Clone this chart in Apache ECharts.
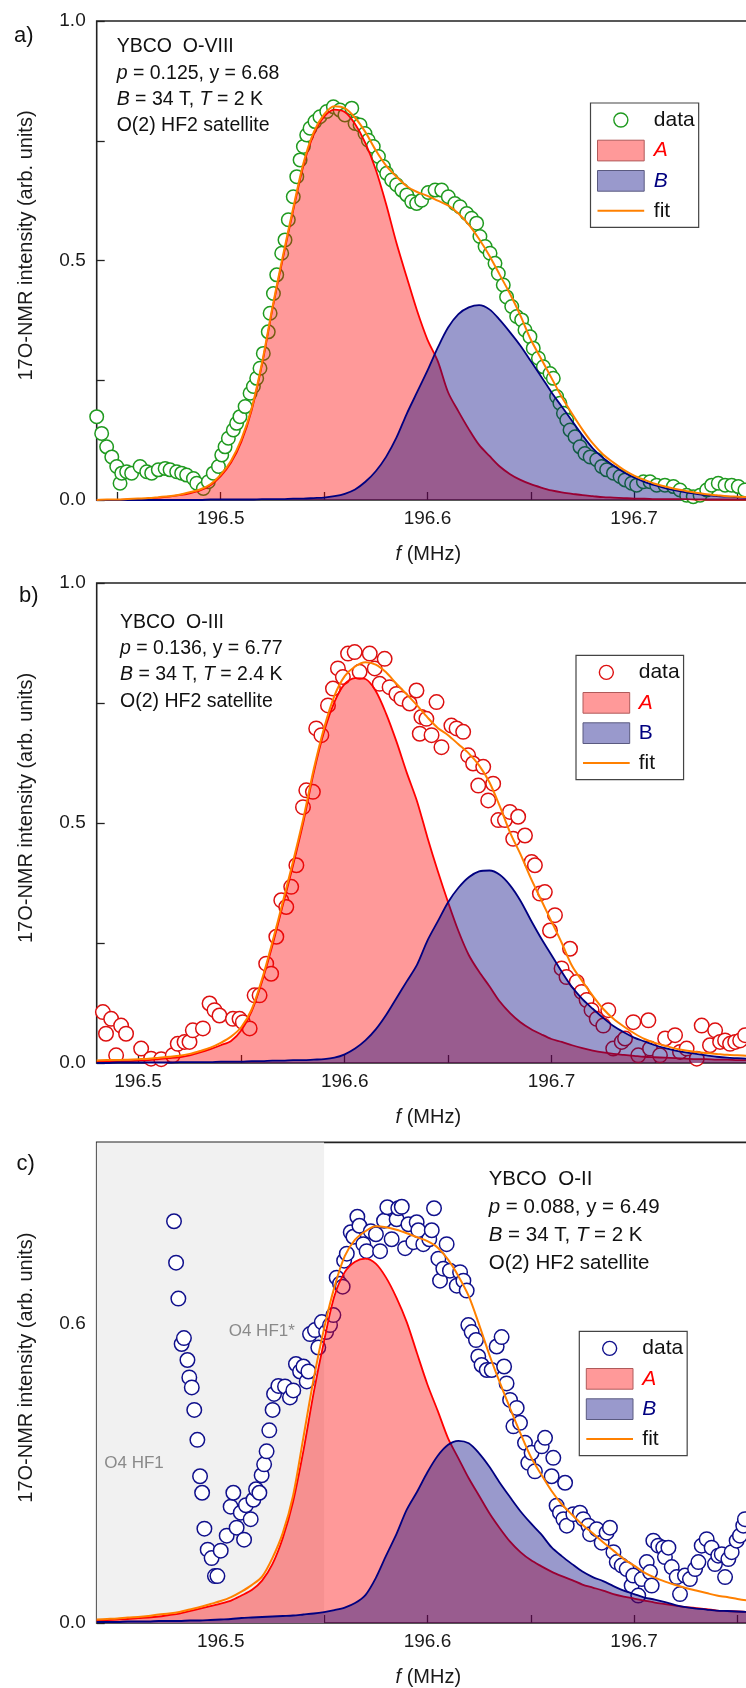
<!DOCTYPE html>
<html><head><meta charset="utf-8">
<script src="https://cdn.jsdelivr.net/npm/echarts@6/dist/echarts.min.js"></script>
<style>html,body{margin:0;padding:0;background:#fff}#c{width:746px;height:1688px}</style>
</head><body><div id="c"></div>
<script>
// ---------- Panel a (YBCO O-VIII) ----------
const freqA = [196.440,196.445,196.450,196.455,196.460,196.465,196.470,196.475,196.480,196.485,196.490,196.495,196.500,196.505,196.510,196.515,196.520,196.525,196.530,196.535,196.540,196.545,196.550,196.555,196.560,196.565,196.570,196.575,196.580,196.585,196.590,196.595,196.600,196.605,196.610,196.615,196.620,196.625,196.630,196.635,196.640,196.645,196.650,196.655,196.660,196.665,196.670,196.675,196.680,196.685,196.690,196.695,196.700,196.705,196.710,196.715,196.720,196.725,196.730,196.735,196.740,196.745,196.750,196.755,196.760];
const compA_a = [0,0,0,0.001,0.002,0.003,0.005,0.007,0.010,0.014,0.020,0.031,0.050,0.078,0.122,0.188,0.283,0.398,0.503,0.603,0.698,0.763,0.800,0.815,0.810,0.785,0.745,0.690,0.618,0.537,0.465,0.395,0.335,0.290,0.225,0.185,0.148,0.115,0.092,0.070,0.054,0.042,0.033,0.026,0.020,0.016,0.013,0.010,0.008,0.006,0.005,0.004,0.003,0.003,0.002,0.002,0.002,0.002,0.001,0.001,0.001,0.001,0.001,0.001,0.001];
const compB_a = [0,0,0,0,0,0,0,0,0,0,0,0.001,0.001,0.001,0.001,0.001,0.002,0.002,0.002,0.003,0.003,0.004,0.005,0.008,0.013,0.022,0.038,0.060,0.090,0.130,0.180,0.225,0.270,0.318,0.360,0.388,0.402,0.407,0.398,0.376,0.350,0.322,0.290,0.258,0.225,0.195,0.165,0.135,0.108,0.088,0.072,0.058,0.047,0.038,0.031,0.025,0.020,0.016,0.013,0.010,0.008,0.007,0.006,0.005,0.004];
const fit_a = [0,0.001,0.001,0.002,0.003,0.004,0.006,0.008,0.011,0.016,0.022,0.033,0.053,0.082,0.127,0.192,0.287,0.402,0.508,0.608,0.703,0.768,0.805,0.822,0.818,0.798,0.768,0.730,0.698,0.675,0.655,0.643,0.635,0.625,0.615,0.598,0.575,0.545,0.510,0.470,0.430,0.385,0.335,0.295,0.255,0.215,0.180,0.147,0.118,0.095,0.078,0.063,0.051,0.042,0.034,0.028,0.023,0.019,0.015,0.012,0.010,0.008,0.007,0.006,0.005];
const data_a = [[196.4400,0.174],[196.4424,0.139],[196.4448,0.111],[196.4473,0.090],[196.4497,0.070],[196.4513,0.035],[196.4521,0.056],[196.4545,0.059],[196.4569,0.056],[196.4610,0.070],[196.4642,0.059],[196.4666,0.056],[196.4698,0.063],[196.4731,0.066],[196.4755,0.063],[196.4787,0.059],[196.4811,0.056],[196.4835,0.052],[196.4868,0.045],[196.4884,0.035],[196.4916,0.024],[196.4940,0.038],[196.4964,0.056],[196.4989,0.070],[196.5005,0.094],[196.5021,0.111],[196.5037,0.129],[196.5061,0.146],[196.5077,0.160],[196.5093,0.174],[196.5118,0.195],[196.5142,0.223],[196.5158,0.237],[196.5174,0.254],[196.5190,0.275],[196.5206,0.306],[196.5230,0.351],[196.5239,0.390],[196.5255,0.431],[196.5271,0.470],[196.5295,0.515],[196.5311,0.543],[196.5327,0.585],[196.5351,0.633],[196.5368,0.675],[196.5384,0.710],[196.5400,0.738],[196.5416,0.762],[196.5432,0.776],[196.5456,0.790],[196.5480,0.800],[196.5513,0.811],[196.5545,0.821],[196.5577,0.814],[196.5601,0.804],[196.5634,0.818],[196.5650,0.786],[196.5674,0.783],[196.5698,0.765],[196.5714,0.751],[196.5738,0.738],[196.5763,0.717],[196.5787,0.696],[196.5803,0.682],[196.5827,0.668],[196.5851,0.658],[196.5876,0.647],[196.5900,0.637],[196.5924,0.623],[196.5948,0.619],[196.5972,0.626],[196.6004,0.642],[196.6037,0.647],[196.6069,0.647],[196.6101,0.633],[196.6133,0.619],[196.6158,0.612],[196.6190,0.598],[196.6214,0.588],[196.6238,0.578],[196.6254,0.550],[196.6279,0.529],[196.6303,0.515],[196.6327,0.494],[196.6343,0.473],[196.6367,0.449],[196.6383,0.424],[196.6408,0.404],[196.6432,0.383],[196.6456,0.376],[196.6472,0.355],[196.6496,0.341],[196.6512,0.317],[196.6537,0.296],[196.6561,0.278],[196.6593,0.264],[196.6609,0.254],[196.6625,0.216],[196.6641,0.202],[196.6658,0.181],[196.6674,0.167],[196.6690,0.146],[196.6714,0.132],[196.6738,0.111],[196.6762,0.097],[196.6787,0.090],[196.6819,0.084],[196.6843,0.070],[196.6867,0.063],[196.6900,0.056],[196.6932,0.049],[196.6956,0.042],[196.6988,0.035],[196.7012,0.031],[196.7045,0.038],[196.7077,0.038],[196.7109,0.031],[196.7149,0.031],[196.7190,0.028],[196.7222,0.021],[196.7254,0.010],[196.7286,0.007],[196.7319,0.010],[196.7351,0.021],[196.7375,0.031],[196.7407,0.035],[196.7440,0.031],[196.7472,0.031],[196.7504,0.028],[196.7536,0.021]];

// ---------- Panel b (YBCO O-III) ----------
const freqB = [196.480,196.485,196.490,196.495,196.500,196.505,196.510,196.515,196.520,196.525,196.530,196.535,196.540,196.545,196.550,196.555,196.560,196.565,196.570,196.575,196.580,196.585,196.590,196.595,196.600,196.605,196.610,196.615,196.620,196.625,196.630,196.635,196.640,196.645,196.650,196.655,196.660,196.665,196.670,196.675,196.680,196.685,196.690,196.695,196.700,196.705,196.710,196.715,196.720,196.725,196.730,196.735,196.740,196.745,196.750,196.755,196.760,196.765,196.770,196.775,196.780,196.785,196.790,196.795,196.800];
const compA_b = [0.003,0.003,0.004,0.004,0.005,0.006,0.008,0.010,0.012,0.016,0.022,0.029,0.037,0.046,0.068,0.108,0.170,0.245,0.328,0.412,0.502,0.605,0.690,0.752,0.790,0.802,0.800,0.775,0.728,0.670,0.605,0.545,0.470,0.400,0.335,0.275,0.225,0.190,0.160,0.128,0.104,0.085,0.071,0.060,0.050,0.044,0.037,0.031,0.026,0.022,0.019,0.017,0.015,0.013,0.012,0.011,0.010,0.009,0.008,0.008,0.007,0.007,0.006,0.006,0.006];
const compB_b = [0,0,0.001,0.001,0.001,0.001,0.001,0.001,0.002,0.002,0.002,0.002,0.003,0.003,0.003,0.004,0.004,0.005,0.005,0.006,0.006,0.007,0.008,0.011,0.018,0.030,0.047,0.070,0.100,0.135,0.170,0.205,0.255,0.295,0.335,0.365,0.387,0.399,0.401,0.392,0.370,0.338,0.298,0.260,0.225,0.190,0.158,0.133,0.113,0.094,0.077,0.064,0.053,0.045,0.037,0.031,0.026,0.022,0.019,0.016,0.013,0.011,0.010,0.009,0.008];
const fit_b = [0.005,0.006,0.006,0.007,0.008,0.009,0.011,0.013,0.015,0.019,0.025,0.032,0.042,0.055,0.075,0.112,0.175,0.252,0.335,0.420,0.510,0.612,0.698,0.765,0.806,0.826,0.835,0.830,0.814,0.790,0.768,0.745,0.720,0.698,0.683,0.664,0.645,0.620,0.585,0.535,0.480,0.435,0.385,0.340,0.295,0.250,0.202,0.170,0.140,0.113,0.092,0.076,0.062,0.050,0.042,0.036,0.030,0.026,0.023,0.021,0.019,0.017,0.016,0.015,0.014];
const data_b = [[196.4797,0.158],[196.4830,0.106],[196.4845,0.061],[196.4870,0.092],[196.4894,0.016],[196.4918,0.078],[196.4942,0.061],[196.5015,0.030],[196.5063,0.009],[196.5112,0.008],[196.5168,0.016],[196.5192,0.040],[196.5225,0.044],[196.5249,0.044],[196.5265,0.068],[196.5314,0.072],[196.5346,0.124],[196.5370,0.110],[196.5394,0.099],[196.5459,0.092],[196.5491,0.092],[196.5507,0.085],[196.5540,0.072],[196.5564,0.141],[196.5588,0.141],[196.5620,0.207],[196.5644,0.186],[196.5669,0.263],[196.5693,0.339],[196.5717,0.325],[196.5741,0.367],[196.5766,0.412],[196.5798,0.533],[196.5814,0.568],[196.5846,0.565],[196.5862,0.697],[196.5887,0.683],[196.5919,0.745],[196.5943,0.780],[196.5967,0.822],[196.5991,0.804],[196.6016,0.853],[196.6048,0.856],[196.6072,0.815],[196.6121,0.853],[196.6145,0.822],[196.6169,0.790],[196.6193,0.842],[196.6217,0.783],[196.6250,0.769],[196.6274,0.759],[196.6314,0.749],[196.6347,0.776],[196.6363,0.686],[196.6371,0.721],[196.6395,0.717],[196.6420,0.683],[196.6444,0.752],[196.6468,0.658],[196.6516,0.703],[196.6541,0.697],[196.6573,0.690],[196.6597,0.641],[196.6621,0.624],[196.6646,0.578],[196.6670,0.617],[196.6694,0.547],[196.6718,0.582],[196.6743,0.506],[196.6775,0.506],[196.6799,0.523],[196.6815,0.467],[196.6839,0.513],[196.6872,0.474],[196.6904,0.419],[196.6920,0.412],[196.6944,0.353],[196.6968,0.356],[196.6993,0.276],[196.7017,0.308],[196.7049,0.197],[196.7073,0.179],[196.7090,0.238],[196.7122,0.169],[196.7146,0.148],[196.7170,0.131],[196.7194,0.110],[196.7219,0.092],[196.7251,0.078],[196.7275,0.110],[196.7299,0.030],[196.7340,0.044],[196.7356,0.051],[196.7396,0.085],[196.7420,0.016],[196.7469,0.089],[196.7477,0.030],[196.7525,0.016],[196.7550,0.051],[196.7598,0.058],[196.7622,0.023],[196.7654,0.030],[196.7703,0.009],[196.7727,0.078],[196.7767,0.037],[196.7792,0.068],[196.7816,0.044],[196.7840,0.047],[196.7864,0.040],[196.7889,0.044],[196.7913,0.047],[196.7937,0.058]];

// ---------- Panel c (YBCO O-II) ----------
const freqC = [196.440,196.445,196.450,196.455,196.460,196.465,196.470,196.475,196.480,196.485,196.490,196.495,196.500,196.505,196.510,196.515,196.520,196.525,196.530,196.535,196.540,196.545,196.550,196.555,196.560,196.565,196.570,196.575,196.580,196.585,196.590,196.595,196.600,196.605,196.610,196.615,196.620,196.625,196.630,196.635,196.640,196.645,196.650,196.655,196.660,196.665,196.670,196.675,196.680,196.685,196.690,196.695,196.700,196.705,196.710,196.715,196.720,196.725,196.730,196.735,196.740,196.745,196.750,196.755,196.760];
const compA_c = [0.005,0.006,0.007,0.008,0.010,0.011,0.013,0.016,0.019,0.024,0.029,0.034,0.039,0.045,0.055,0.066,0.085,0.118,0.170,0.243,0.345,0.462,0.565,0.655,0.703,0.724,0.730,0.720,0.692,0.652,0.603,0.540,0.478,0.425,0.370,0.330,0.290,0.255,0.220,0.190,0.163,0.142,0.126,0.114,0.103,0.094,0.086,0.077,0.071,0.065,0.058,0.053,0.049,0.045,0.041,0.038,0.035,0.032,0.030,0.028,0.025,0.024,0.023,0.022,0.021];
const compB_c = [0.002,0.002,0.002,0.003,0.003,0.003,0.004,0.004,0.004,0.005,0.005,0.006,0.007,0.008,0.010,0.011,0.012,0.013,0.014,0.015,0.017,0.019,0.022,0.026,0.031,0.040,0.056,0.090,0.135,0.178,0.227,0.263,0.302,0.335,0.357,0.365,0.360,0.340,0.313,0.281,0.252,0.224,0.200,0.178,0.152,0.134,0.118,0.103,0.092,0.084,0.074,0.065,0.058,0.051,0.047,0.042,0.036,0.032,0.029,0.027,0.025,0.024,0.023,0.022,0.021];
const fit_c = [0.007,0.008,0.009,0.011,0.012,0.014,0.017,0.019,0.022,0.027,0.032,0.038,0.044,0.052,0.063,0.076,0.093,0.130,0.180,0.255,0.372,0.490,0.590,0.673,0.735,0.768,0.785,0.795,0.793,0.788,0.781,0.773,0.765,0.752,0.728,0.695,0.655,0.598,0.537,0.482,0.430,0.380,0.333,0.298,0.265,0.238,0.217,0.197,0.180,0.162,0.145,0.128,0.115,0.101,0.091,0.083,0.076,0.070,0.065,0.060,0.055,0.052,0.048,0.045,0.043];
const data_c = [[196.4774,0.805],[196.4784,0.722],[196.4795,0.650],[196.4811,0.559],[196.4822,0.571],[196.4839,0.527],[196.4848,0.492],[196.4860,0.472],[196.4872,0.427],[196.4887,0.367],[196.4900,0.294],[196.4910,0.261],[196.4921,0.189],[196.4937,0.147],[196.4956,0.130],[196.4972,0.094],[196.4984,0.094],[196.5000,0.145],[196.5029,0.175],[196.5048,0.233],[196.5061,0.261],[196.5077,0.191],[196.5097,0.221],[196.5113,0.167],[196.5122,0.236],[196.5145,0.208],[196.5158,0.247],[196.5171,0.268],[196.5187,0.261],[196.5198,0.296],[196.5210,0.318],[196.5222,0.344],[196.5235,0.386],[196.5251,0.427],[196.5258,0.459],[196.5279,0.475],[196.5311,0.474],[196.5335,0.452],[196.5351,0.466],[196.5364,0.519],[196.5384,0.504],[196.5400,0.514],[196.5416,0.484],[196.5424,0.504],[196.5432,0.579],[196.5456,0.587],[196.5472,0.552],[196.5489,0.603],[196.5510,0.583],[196.5529,0.597],[196.5545,0.617],[196.5561,0.692],[196.5577,0.680],[196.5590,0.674],[196.5597,0.726],[196.5610,0.740],[196.5629,0.783],[196.5642,0.774],[196.5661,0.814],[196.5671,0.796],[196.5690,0.759],[196.5706,0.745],[196.5726,0.785],[196.5751,0.779],[196.5771,0.745],[196.5790,0.806],[196.5806,0.833],[196.5827,0.769],[196.5851,0.809],[196.5859,0.831],[196.5876,0.834],[196.5892,0.751],[196.5908,0.799],[196.5932,0.763],[196.5948,0.803],[196.5956,0.787],[196.5980,0.759],[196.6009,0.769],[196.6021,0.787],[196.6032,0.831],[196.6053,0.730],[196.6061,0.686],[196.6077,0.710],[196.6093,0.759],[196.6109,0.706],[196.6142,0.676],[196.6158,0.703],[196.6174,0.686],[196.6190,0.666],[196.6198,0.597],[196.6214,0.583],[196.6235,0.567],[196.6246,0.534],[196.6262,0.517],[196.6287,0.507],[196.6311,0.507],[196.6335,0.554],[196.6359,0.573],[196.6371,0.514],[196.6383,0.480],[196.6400,0.447],[196.6416,0.394],[196.6432,0.431],[196.6448,0.401],[196.6472,0.361],[196.6488,0.321],[196.6504,0.341],[196.6520,0.304],[196.6553,0.354],[196.6569,0.371],[196.6601,0.294],[196.6609,0.331],[196.6625,0.235],[196.6641,0.221],[196.6658,0.208],[196.6666,0.281],[196.6674,0.195],[196.6706,0.218],[196.6738,0.221],[196.6754,0.208],[196.6779,0.195],[196.6787,0.178],[196.6819,0.188],[196.6843,0.161],[196.6867,0.181],[196.6883,0.191],[196.6900,0.142],[196.6916,0.122],[196.6940,0.115],[196.6964,0.108],[196.6988,0.075],[196.6996,0.095],[196.7020,0.055],[196.7037,0.088],[196.7061,0.122],[196.7077,0.102],[196.7085,0.075],[196.7093,0.165],[196.7117,0.155],[196.7141,0.151],[196.7149,0.132],[196.7166,0.151],[196.7182,0.112],[196.7206,0.092],[196.7222,0.058],[196.7246,0.095],[196.7270,0.088],[196.7295,0.108],[196.7311,0.122],[196.7327,0.155],[196.7351,0.168],[196.7375,0.151],[196.7391,0.118],[196.7407,0.135],[196.7424,0.138],[196.7440,0.092],[196.7456,0.128],[196.7472,0.142],[196.7496,0.165],[196.7512,0.175],[196.7528,0.195],[196.7536,0.208]];
const shadeC = [196.44, 196.55];

// ---------- Ticks / labels ----------
const xTicksA = [196.45,196.5,196.55,196.6,196.65,196.7,196.75];
const xTicksB = [196.5,196.55,196.6,196.65,196.7,196.75];
const xLabels = [196.5,196.6,196.7];
const yTicksAB = [0,0.25,0.5,0.75,1.0];
const yLabelsAB = [0,0.5,1.0];
const yTicksC = [0,0.3,0.6,0.9];
const yLabelsC = [0,0.6];

const FONT = "'Liberation Sans', Arial, Helvetica, sans-serif";
const INK = '#1a1a1a';

function pairs(xs, ys){ return xs.map((x,i)=>[x, ys[i]]); }

function grid(top, height){
  return {left:96.7, top:top, width:663.3, height:height, show:true, borderColor:'#222', borderWidth:1.6, backgroundColor:'transparent', containLabel:false, outerBoundsMode:'none'};
}
function xAxisCfg(gi, min, max, ticks){
  return {type:'value', gridIndex:gi, min:min, max:max,
    axisLine:{show:false, onZero:false}, splitLine:{show:false},
    axisTick:{show:true, inside:true, length:8, customValues:ticks, lineStyle:{color:'#222', width:1.3}},
    axisLabel:{customValues:xLabels, margin:9, fontSize:19, color:INK, fontFamily:FONT, formatter:v=>v.toFixed(1)},
    name:'{i|f} (MHz)', nameLocation:'middle', nameGap:44,
    nameTextStyle:{fontSize:20, color:INK, fontFamily:FONT, rich:{i:{fontStyle:'italic', fontSize:20, color:INK, fontFamily:FONT}}}
  };
}
function yAxisCfg(gi, max, ticks, labels){
  return {type:'value', gridIndex:gi, min:0, max:max,
    axisLine:{show:false, onZero:false}, splitLine:{show:false},
    axisTick:{show:true, inside:true, length:8, customValues:ticks, lineStyle:{color:'#222', width:1.3}},
    axisLabel:{customValues:labels, margin:11, fontSize:19, color:INK, fontFamily:FONT, formatter:v=>v.toFixed(1)},
    name:'17O-NMR intensity (arb. units)', nameLocation:'middle', nameGap:60,
    nameTextStyle:{fontSize:20, color:INK, fontFamily:FONT, padding:[0,0,0,30]}
  };
}
function panelSeries(gi, sfx, freq, A, B, F, pts, dotColor, dotSize){
  return [
    {type:'scatter', name:'data'+sfx, xAxisIndex:gi, yAxisIndex:gi, data:pts, symbol:'circle', symbolSize:dotSize,
      itemStyle:{color:'#fff', borderColor:dotColor, borderWidth:1.5, opacity:1}, z:2, silent:true},
    {type:'line', name:'A'+sfx, xAxisIndex:gi, yAxisIndex:gi, data:pairs(freq, A), smooth:0.3, symbol:'none',
      lineStyle:{color:'#ff0000', width:1.8}, itemStyle:{color:'#ff0000'}, areaStyle:{color:'#ff0000', opacity:0.4}, z:3, silent:true},
    {type:'line', name:'B'+sfx, xAxisIndex:gi, yAxisIndex:gi, data:pairs(freq, B), smooth:0.3, symbol:'none',
      lineStyle:{color:'#000080', width:1.8}, itemStyle:{color:'#000080'}, areaStyle:{color:'#000080', opacity:0.4}, z:4, silent:true},
    {type:'line', name:'fit'+sfx, xAxisIndex:gi, yAxisIndex:gi, data:pairs(freq, F), smooth:0.3, symbol:'none',
      lineStyle:{color:'#ff8000', width:2}, itemStyle:{color:'#ff8000'}, z:5, silent:true}
  ];
}
const CIRCLE_ICON = 'path://M0,0M0,20.7M14,10.35A7,7,0,0,1,0,10.35A7,7,0,0,1,14,10.35Z';
const LINE_ICON = 'path://M0,0M0,20.7M0,9.35L47,9.35L47,11.35L0,11.35Z';
function legendCfg(sfx, dotColor, left, top, bItalic, gap){
  return {orient:'vertical', left:left, top:top, padding:[6,4,6,6.5], itemGap:8.6, itemWidth:46.7, itemHeight:20.7,
    backgroundColor:'#fff', borderColor:'#444', borderWidth:1.2, selectedMode:false,
    formatter:n=>n.trim(),
    textStyle:{fontSize:21, fontFamily:FONT, color:'#111', padding:[0,0,0,gap], lineHeight:21},
    data:[
      {name:'data'+sfx, icon:CIRCLE_ICON, itemStyle:{color:'#fff', borderColor:dotColor, borderWidth:1.4}},
      {name:'A'+sfx, icon:'rect', itemStyle:{color:'rgba(255,0,0,0.4)', borderColor:'#b05a5a', borderWidth:1}, textStyle:{color:'#ff0000', fontStyle:'italic'}},
      {name:'B'+sfx, icon:'rect', itemStyle:{color:'rgba(0,0,128,0.4)', borderColor:'#5a5a80', borderWidth:1}, textStyle:{color:'#000080', fontStyle:bItalic?'italic':'normal'}},
      {name:'fit'+sfx, icon:LINE_ICON, itemStyle:{color:'#ff8000', borderWidth:0}}
    ]};
}
function txt(x, y, text, size, color){
  const c = color || '#111';
  return {type:'text', x:x, y:y, silent:true, z:100,
    style:{text:text, fontSize:size, fontFamily:FONT, fill:c, verticalAlign:'middle', align:'left',
      rich:{i:{fontStyle:'italic', fontSize:size, fontFamily:FONT, fill:c}}}};
}
function block(x, ys, lines, size){ return lines.map((l,i)=>txt(x, ys[i], l, size)); }

const chart = echarts.init(document.getElementById('c'), null, {renderer:'canvas'});
chart.setOption({
  animation:false,
  backgroundColor:'#fff',
  textStyle:{fontFamily:FONT},
  grid:[grid(21,479), grid(583,480), grid(1142.4,480.6)],
  xAxis:[xAxisCfg(0,196.44,196.7609,xTicksA), xAxisCfg(1,196.48,196.8009,xTicksB), xAxisCfg(2,196.44,196.7609,xTicksA)],
  yAxis:[yAxisCfg(0,1.0,yTicksAB,yLabelsAB), yAxisCfg(1,1.0,yTicksAB,yLabelsAB), yAxisCfg(2,0.963,yTicksC,yLabelsC)],
  legend:[legendCfg('', '#1f9a1f', 590.5, 103, true, 4.6), legendCfg(' ', '#dd1010', 576, 655.3, false, 4), legendCfg('  ', '#10108c', 579.3, 1331.3, true, 4.3)],
  series:[
    {type:'line', xAxisIndex:2, yAxisIndex:2, data:[], z:0, silent:true,
      markArea:{silent:true, itemStyle:{color:'#f1f1f1'}, label:{show:false}, data:[[{xAxis:shadeC[0]},{xAxis:shadeC[1]}]]}},
    ...panelSeries(0, '', freqA, compA_a, compB_a, fit_a, data_a, '#1f9a1f', 13.5),
    ...panelSeries(1, ' ', freqB, compA_b, compB_b, fit_b, data_b, '#dd1010', 14.5),
    ...panelSeries(2, '  ', freqC, compA_c, compB_c, fit_c, data_c, '#10108c', 14.5)
  ],
  graphic:[
    txt(14, 36, 'a)', 22), txt(19, 596, 'b)', 22), txt(16.5, 1164, 'c)', 22),
    ...block(116.7, [46.9,73.6,99.6,125.6], ['YBCO  O-VIII','{i|p} = 0.125, y = 6.68','{i|B} = 34 T, {i|T} = 2 K','O(2) HF2 satellite'], 19.5),
    ...block(120, [622.3,648.9,674.9,701.6], ['YBCO  O-III','{i|p} = 0.136, y = 6.77','{i|B} = 34 T, {i|T} = 2.4 K','O(2) HF2 satellite'], 19.5),
    ...block(488.7, [1179.2,1206.9,1235.2,1263.5], ['YBCO  O-II','{i|p} = 0.088, y = 6.49','{i|B} = 34 T, {i|T} = 2 K','O(2) HF2 satellite'], 20.5),
    txt(228.7, 1331.4, 'O4 HF1*', 17, '#8a8a8a'),
    txt(104.3, 1463.7, 'O4 HF1', 17, '#8a8a8a')
  ]
});
</script>
</body></html>
